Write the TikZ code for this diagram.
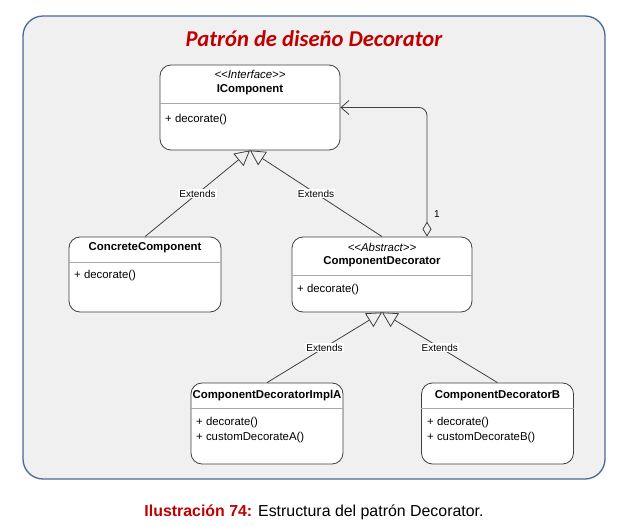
\documentclass[tikz,border=0pt]{standalone}
\usepackage{fontspec}
\setmainfont{Liberation Sans}
\newfontfamily\umlfont{Liberation Sans}
\newfontfamily\titlefont{Carlito}
\usetikzlibrary{arrows.meta}
\definecolor{frameblue}{HTML}{4A6A98}
\definecolor{framefill}{HTML}{F0F0F0}
\definecolor{titlered}{HTML}{C00000}
\definecolor{umlline}{HTML}{404040}
\definecolor{umlsep}{HTML}{A8A8A8}

\begin{document}
\begin{tikzpicture}[x=1pt,y=-1pt,
        cls/.style={draw=umlline, fill=white, rounded corners=11pt,
                        line width=0.8pt, inner sep=0pt},
        sep/.style={draw=umlsep, line width=0.8pt},
        stereo/.style={font=\umlfont\fontsize{11.4}{13}\selectfont\itshape,
                        inner sep=0pt, anchor=base},
        cname/.style={font=\umlfont\fontsize{11.4}{13}\selectfont\bfseries,
                        inner sep=0pt, anchor=base},
        meth/.style={font=\umlfont\fontsize{11.4}{13}\selectfont,
                        inner sep=0pt, anchor=base west},
        ext/.style={draw=umlline, line width=0.8pt,
                        -{Triangle[open, length=15pt, width=16pt]}},
        agg/.style={draw=umlline, line width=0.8pt, rounded corners=8pt,
                        {Diamond[open, length=15pt, width=9pt]}-{Straight Barb[length=8pt, width=14pt]}},
        lbl/.style={fill=white, inner sep=1pt,
                        font=\umlfont\fontsize{10}{12}\selectfont}]
    \useasboundingbox (0,0) rectangle (622,527);
    \draw[draw=frameblue, fill=framefill, line width=1.3pt, rounded corners=20pt]
        (23,16) rectangle (605,479);

    \node[font=\titlefont\fontsize{22.6}{26}\selectfont\bfseries\itshape,
        text=titlered, anchor=base] (title) at (314,47) {Patrón de diseño Decorator};

    % classes
    \node[cls, minimum width=180pt, minimum height=85pt] (icomp) at (250,107.5) {};
    \node[cls, minimum width=152pt, minimum height=75pt] (cc) at (145,274.5) {};
    \node[cls, minimum width=180pt, minimum height=75pt] (cd) at (382,274.5) {};
    \node[cls, minimum width=152pt, minimum height=81pt] (ca) at (267,423.5) {};
    \node[cls, minimum width=152pt, minimum height=81pt] (cb) at (497.5,423.5) {};

    \draw[sep] (icomp.west |- 0,103) -- (icomp.east |- 0,103);
    \draw[sep] (cc.west |- 0,262) -- (cc.east |- 0,262);
    \draw[sep] (cd.west |- 0,275) -- (cd.east |- 0,275);
    \draw[sep] (ca.west |- 0,408) -- (ca.east |- 0,408);
    \draw[sep] (cb.west |- 0,408) -- (cb.east |- 0,408);

    \node[stereo] (icomp-st) at (250,79) {<<Interface>>};
    \node[cname] (icomp-nm) at (250,93) {IComponent};
    \node[meth] (icomp-m1) at (165,122) {+ decorate()};

    \node[cname] (cc-nm) at (145,250) {ConcreteComponent};
    \node[meth] (cc-m1) at (74,278) {+ decorate()};

    \node[stereo] (cd-st) at (382,251) {<<Abstract>>};
    \node[cname] (cd-nm) at (382,264) {ComponentDecorator};
    \node[meth] (cd-m1) at (297,292) {+ decorate()};

    \node[cname] (ca-nm) at (267,398) {ComponentDecoratorImplA};
    \node[meth] (ca-m1) at (196,425) {+ decorate()};
    \node[meth] (ca-m2) at (196,440) {+ customDecorateA()};

    \node[cname] (cb-nm) at (497.5,398) {ComponentDecoratorB};
    \node[meth] (cb-m1) at (427,425) {+ decorate()};
    \node[meth] (cb-m2) at (427,440) {+ customDecorateB()};

    % relations
    \foreach \a/\b in {cc/icomp, cd/icomp, ca/cd, cb/cd}
        \draw[ext] (\a.north) -- node[lbl]{Extends} (\b.south);
    \draw[agg] ([xshift=45pt]cd.north) |- (icomp.east);
    \node[lbl, fill=none] (mult) at (437,214) {1};

    \node[anchor=base, font=\fontsize{15.9}{18}\selectfont] (caption) at (314,516)
        {\textcolor{titlered}{\bfseries Ilustración 74:} Estructura del patrón Decorator.};
\end{tikzpicture}
\end{document}
